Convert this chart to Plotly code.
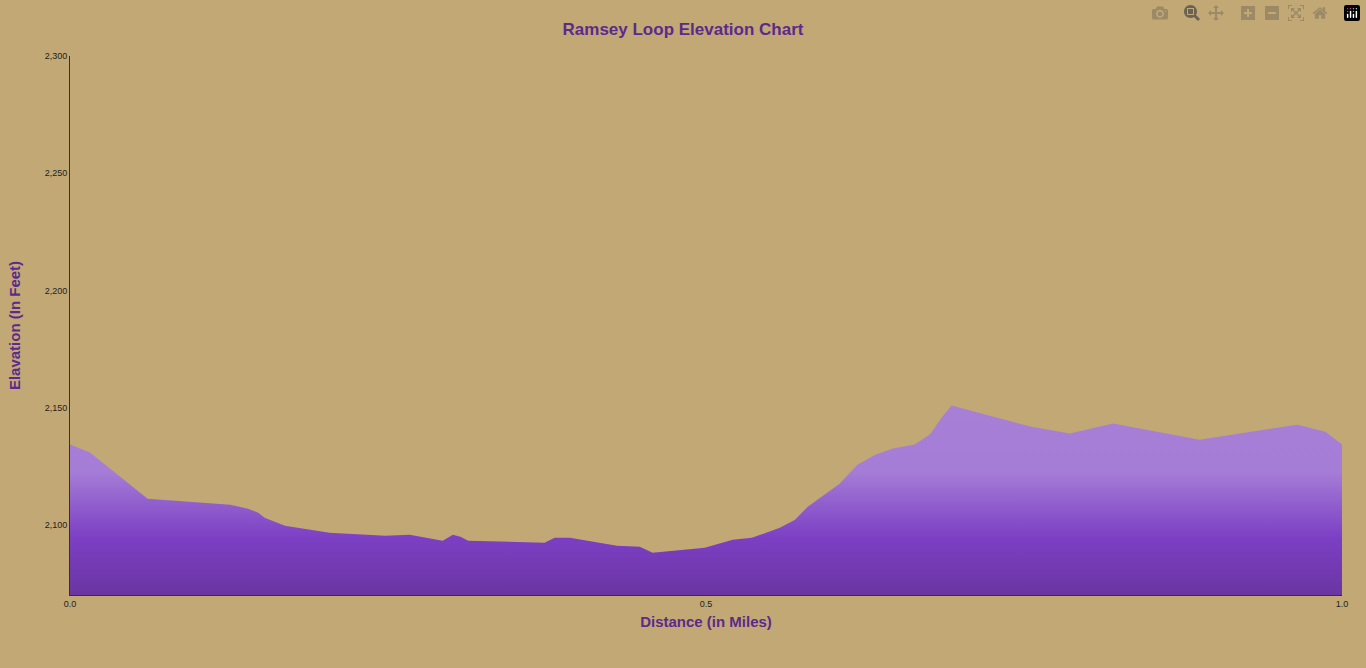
import plotly.graph_objects as go

distance = [0, 0.0157, 0.061, 0.126, 0.140, 0.148, 0.153, 0.169, 0.204, 0.248, 0.267, 0.293, 0.301, 0.307, 0.313,
            0.373, 0.381, 0.393, 0.430, 0.448, 0.458, 0.499, 0.521, 0.536, 0.558, 0.570, 0.580, 0.605, 0.619,
            0.633, 0.647, 0.664, 0.676, 0.686, 0.693, 0.755, 0.786, 0.820, 0.888, 0.965, 0.987, 1.0]
elevation = [2134.2, 2130.8, 2111.1, 2108.5, 2106.8, 2105.1, 2103, 2099.6, 2096.6, 2095.3, 2095.7, 2093.2, 2095.7,
             2094.9, 2093.2, 2092.3, 2094.4, 2094.4, 2091, 2090.6, 2088, 2090.2, 2093.6, 2094.4, 2098.7, 2102.1,
             2107.7, 2117.5, 2125.6, 2129.9, 2132.5, 2134.2, 2138.5, 2146.2, 2150.9, 2141.9, 2138.9, 2143.2,
             2136.3, 2142.7, 2139.7, 2134.2]
base = [2070] * len(distance)

purple = "#5b2a8c"
fig = go.Figure()
fig.add_trace(go.Scatter(x=distance, y=base, mode="lines", line=dict(width=0), hoverinfo="skip", showlegend=False))
fig.add_trace(go.Scatter(
    x=distance, y=elevation, mode="lines", line=dict(width=0), fill="tonexty",
    fillgradient=dict(type="vertical", start=2070, stop=2151,
                      colorscale=[[0, "#6a35a2"], [0.3, "#7c3fc4"], [0.65, "#a57dd6"], [1, "#a87fd6"]]),
    showlegend=False))

fig.update_layout(
    width=1366, height=668,
    paper_bgcolor="#c2a874", plot_bgcolor="#c2a874",
    margin=dict(l=70, r=24, t=56, b=73),
    title=dict(text="<b>Ramsey Loop Elevation Chart</b>", x=0.5, y=0.965, xanchor="center",
               font=dict(family="Arial", size=17, color=purple)),
    font=dict(family="Arial", size=9, color="#222"),
    xaxis=dict(range=[0, 1], tickvals=[0, 0.5, 1.0], ticktext=["0.0", "0.5", "1.0"],
               showgrid=False, zeroline=False, showline=True, linecolor="#333", linewidth=1,
               title=dict(text="<b>Distance (in Miles)</b>", font=dict(size=15, color=purple), standoff=8)),
    yaxis=dict(range=[2070, 2300], tickvals=[2100, 2150, 2200, 2250, 2300], tickformat=",",
               showgrid=False, zeroline=False, showline=True, linecolor="#333", linewidth=1,
               title=dict(text="<b>Elavation (In Feet)</b>", font=dict(size=15, color=purple), standoff=20)),
)
fig.write_html("out.html", post_script="document.body.style.margin='0';")
